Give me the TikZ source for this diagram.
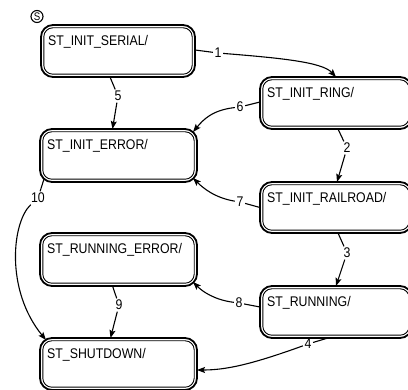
\documentclass[tikz,border=0pt]{standalone}
\usepackage{fontspec}
\setmainfont{Liberation Sans}[FakeStretch=0.88]
\usetikzlibrary{arrows.meta}
\tikzset{
  box/.style={draw, line width=1.8pt, rounded corners=12pt, inner sep=0pt, outer sep=0pt},
  innerline/.style={draw, line width=0.9pt, rounded corners=9pt},
  lbl/.style={inner sep=0pt, font=\fontsize{14}{16}\selectfont},
  tlbl/.style={inner sep=1.5pt, font=\fontsize{14}{16}\selectfont},
  conn/.style={draw, line width=1.1pt},
  arr/.style={conn, -{Stealth[length=8pt,width=6pt,inset=1.5pt]}},
}
\newcommand\statebox[6]{%
  \node[box, minimum width={#4-#2}, minimum height={#5-#3}] (#1) at ({(#2+#4)/2},{(#3+#5)/2}) {};
  \draw[innerline] ([shift={(2.8,2.8)}]#1.north west) rectangle ([shift={(-2.8,-2.8)}]#1.south east);
  \node[lbl, anchor=base west] (#1-t) at ([shift={(7,21)}]#1.north west) {#6};
}
\begin{document}
\begin{tikzpicture}[x=1pt,y=-1pt]
\useasboundingbox (0,0) rectangle (408,390);
\clip (0,0) rectangle (408,390);
% start marker
\node[circle, draw, line width=1.1pt, inner sep=0pt, minimum size=12pt, font=\fontsize{11}{11}\selectfont] (start) at (37,16.5) {S};
% states
\statebox{serial}{41}{25}{195}{77}{ST\_INIT\_SERIAL/}
\statebox{ring}{260}{77}{412}{129}{ST\_INIT\_RING/}
\statebox{initerr}{40}{129}{197}{182}{ST\_INIT\_ERROR/}
\statebox{railroad}{260}{182}{412}{233}{ST\_INIT\_RAILROAD/}
\statebox{runerr}{40}{233}{197}{286}{ST\_RUNNING\_ERROR/}
\statebox{running}{260}{286}{412}{338}{ST\_RUNNING/}
\statebox{shutdown}{40}{338}{197}{390}{ST\_SHUTDOWN/}
% transition labels
\node[tlbl] (l1) at (218,53) {1};
\node[tlbl] (l2) at (347,148) {2};
\node[tlbl] (l3) at (347,253) {3};
\node[tlbl] (l4) at (308,344) {4};
\node[tlbl] (l5) at (118,96) {5};
\node[tlbl] (l6) at (240,107) {6};
\node[tlbl] (l7) at (240,202) {7};
\node[tlbl] (l8) at (239,303) {8};
\node[tlbl] (l9) at (119,305) {9};
\node[tlbl] (l10) at (38,198) {10};
% transitions
\draw[conn] ([shift={(0,-1)}]serial.east) -- (l1);
\draw[arr] (l1) .. controls (280,58) and (322,62) .. (ring.north);
\draw[conn] ([shift={(2,0)}]ring.south) -- (l2);
\draw[arr] (l2) -- ([shift={(1,0)}]railroad.north);
\draw[conn] ([shift={(2,0)}]railroad.south) -- (l3);
\draw[arr] (l3) -- ([shift={(0,0)}]running.north);
\draw[conn] ([shift={(-8,0)}]running.south) -- (l4);
\draw[arr] (l4) .. controls (250,365) and (225,370) .. ([shift={(0,6)}]shutdown.east);
\draw[conn] ([shift={(-8,0)}]serial.south) -- (l5);
\draw[arr] (l5) -- ([shift={(-6,0)}]initerr.north);
\draw[conn] ([shift={(0,-1)}]ring.west) -- (l6);
\draw[arr] (l6) .. controls (212,110) and (203,120) .. ([shift={(-4,3)}]initerr.north east);
\draw[conn] (railroad.west) -- (l7);
\draw[arr] (l7) .. controls (215,198) and (203,188) .. ([shift={(-4,-4)}]initerr.south east);
\draw[conn] ([shift={(0,-5)}]running.west) -- (l8);
\draw[arr] (l8) .. controls (215,300) and (203,292) .. ([shift={(-4,-4)}]runerr.south east);
\draw[conn] ([shift={(-6,0)}]runerr.south) -- (l9);
\draw[arr] (l9) -- ([shift={(-8,0)}]shutdown.north);
\draw[conn] ([shift={(4,-3)}]initerr.south west) -- (l10);
\draw[arr] (l10) .. controls (12,222) and (5,290) .. ([shift={(6,2)}]shutdown.north west);
\end{tikzpicture}
\end{document}
